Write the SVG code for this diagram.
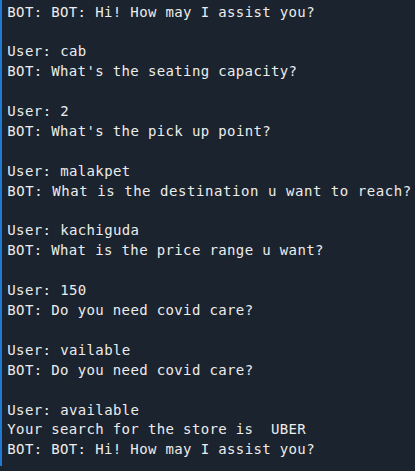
<svg xmlns="http://www.w3.org/2000/svg" width="415" height="471" viewBox="0 0 415 471">
<style>
text{font-family:"DejaVu Sans Mono","Liberation Mono",monospace;font-size:14px;fill:#ececec;white-space:pre}
</style>
<rect x="0" y="0" width="415" height="471" fill="#1b232e"/>
<rect x="0" y="0" width="2" height="466" fill="#1f7ad4"/>
<g id="log" xml:space="preserve">
<text x="7.3" y="16.5" textLength="307.3" lengthAdjust="spacing">BOT: BOT: Hi! How may I assist you?</text>
<text x="7.3" y="56.3" textLength="79" lengthAdjust="spacing">User: cab</text>
<text x="7.3" y="76.2" textLength="289.7" lengthAdjust="spacing">BOT: What's the seating capacity?</text>
<text x="7.3" y="116" textLength="61.5" lengthAdjust="spacing">User: 2</text>
<text x="7.3" y="135.9" textLength="263.4" lengthAdjust="spacing">BOT: What's the pick up point?</text>
<text x="7.3" y="175.7" textLength="122.9" lengthAdjust="spacing">User: malakpet</text>
<text x="7.3" y="195.6" textLength="403.9" lengthAdjust="spacing">BOT: What is the destination u want to reach?</text>
<text x="7.3" y="235.4" textLength="131.7" lengthAdjust="spacing">User: kachiguda</text>
<text x="7.3" y="255.3" textLength="316.1" lengthAdjust="spacing">BOT: What is the price range u want?</text>
<text x="7.3" y="295.1" textLength="79" lengthAdjust="spacing">User: 150</text>
<text x="7.3" y="315" textLength="245.8" lengthAdjust="spacing">BOT: Do you need covid care?</text>
<text x="7.3" y="354.8" textLength="122.9" lengthAdjust="spacing">User: vailable</text>
<text x="7.3" y="374.7" textLength="245.8" lengthAdjust="spacing">BOT: Do you need covid care?</text>
<text x="7.3" y="414.5" textLength="131.7" lengthAdjust="spacing">User: available</text>
<text x="7.3" y="434.4" textLength="298.5" lengthAdjust="spacing">Your search for the store is  UBER</text>
<text x="7.3" y="454.3" textLength="307.3" lengthAdjust="spacing">BOT: BOT: Hi! How may I assist you?</text>
</g>
</svg>
